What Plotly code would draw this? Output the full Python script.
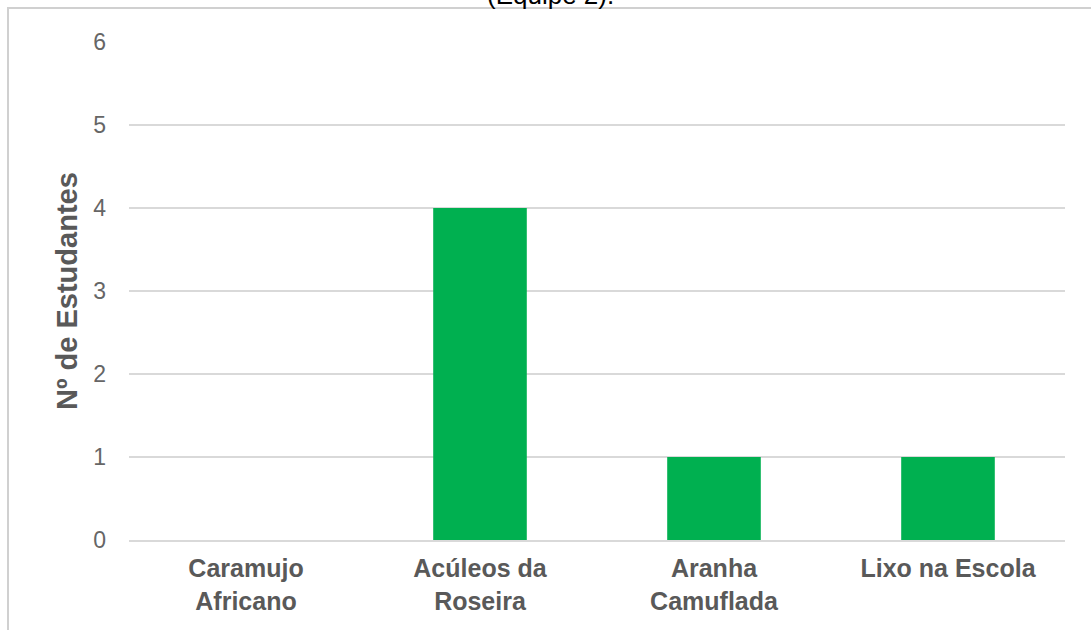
import plotly.graph_objects as go

# Data: number of students per research theme
categories = ["Caramujo<br>Africano", "Acúleos da<br>Roseira", "Aranha<br>Camuflada", "Lixo na Escola"]
students = [0, 4, 1, 1]
y_ticks = [0, 1, 2, 3, 4, 5, 6]

W, H = 1091, 630
L, R, T, B = 129, 26, 42, 90
pw, ph = W - L - R, H - T - B


def px_x(x):
    return (x - L) / pw


def px_y(y):
    return (H - B - y) / ph


fig = go.Figure(
    go.Bar(
        x=categories,
        y=students,
        marker=dict(color="#00B050", line=dict(width=0)),
        hoverinfo="skip",
    )
)

fig.update_layout(
    width=W,
    height=H,
    margin=dict(l=L, r=R, t=T, b=B),
    paper_bgcolor="white",
    plot_bgcolor="white",
    bargap=0.6,
    showlegend=False,
    font=dict(family="Liberation Sans, Arial, sans-serif"),
)

fig.update_xaxes(
    showgrid=False,
    showline=True,
    linecolor="#d9d9d9",
    linewidth=2,
    ticks="",
    tickfont=dict(size=25, color="#595959", weight="bold"),
    ticklabelstandoff=5,
)

fig.update_yaxes(
    range=[0, 6],
    tickvals=y_ticks,
    showgrid=True,
    gridcolor="#d9d9d9",
    gridwidth=2,
    zeroline=False,
    showline=False,
    ticks="",
    tickfont=dict(size=23, color="#666666"),
    ticklabelstandoff=22,
)

# Vertical axis title
fig.add_annotation(
    text="<b>Nº de Estudantes</b>",
    xref="paper", yref="paper",
    x=px_x(67), y=0.5,
    xanchor="center", yanchor="middle",
    textangle=-90,
    showarrow=False,
    font=dict(size=29, color="#595959"),
)

# Chart title, partly above the top edge
fig.add_annotation(
    text="(Equipe 2).",
    xref="paper", yref="paper",
    x=px_x(550), y=1,
    xanchor="center", yanchor="middle",
    yshift=47,
    showarrow=False,
    font=dict(size=26, color="#000000"),
)

# Chart frame
fig.add_shape(
    type="rect",
    xref="paper", yref="paper",
    x0=px_x(8), x1=px_x(W + 20),
    y0=px_y(H + 20), y1=px_y(8),
    line=dict(color="#d0d0d0", width=2),
    fillcolor="rgba(0,0,0,0)",
    layer="below",
)

fig.write_html("out.html")
